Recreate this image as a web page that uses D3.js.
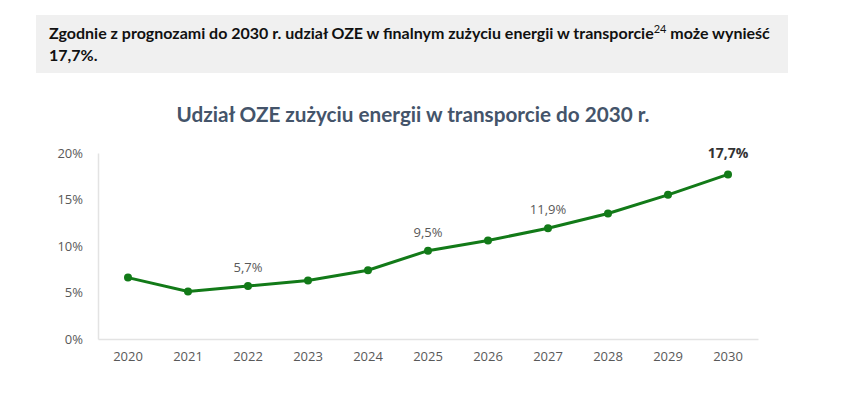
<!DOCTYPE html>
<html>
<head>
<meta charset="utf-8">
<script src="https://cdn.jsdelivr.net/npm/d3@7"></script>
<style>
  body { margin: 0; background: #fff; }
  svg { font-family: Lato, "Open Sans", sans-serif; }
</style>
</head>
<body>
<div id="chart"></div>
<script>
const years = ['2020', '2021', '2022', '2023', '2024', '2025', '2026', '2027', '2028', '2029', '2030'];
const shares = [6.6, 5.1, 5.7, 6.3, 7.4, 9.5, 10.6, 11.9, 13.5, 15.5, 17.7];
const labelledYears = ['2022', '2025', '2027', '2030'];
const yTicks = [0, 5, 10, 15, 20];

const width = 850;
const height = 399;
const green = '#127a18';

const svg = d3.select('#chart')
  .append('svg')
  .attr('width', width)
  .attr('height', height);

// header box
svg.append('rect')
  .attr('x', 36).attr('y', 15)
  .attr('width', 752).attr('height', 58)
  .attr('fill', '#f0f0f0');

const head = svg.append('text')
  .attr('x', 49).attr('y', 39)
  .attr('fill', '#111')
  .style('font-size', '16px')
  .style('font-weight', 700);
head.append('tspan').text('Zgodnie z prognozami do 2030 r. udział OZE w finalnym zużyciu energii w transporcie');
head.append('tspan').text('24').attr('dy', -6).style('font-size', '11px').style('font-weight', 400);
head.append('tspan').text(' może wynieść').attr('dy', 6);
svg.append('text')
  .attr('x', 49).attr('y', 61)
  .attr('fill', '#111')
  .style('font-size', '16px')
  .style('font-weight', 700)
  .text('17,7%.');

// chart title
svg.append('text')
  .attr('x', 413).attr('y', 122)
  .attr('text-anchor', 'middle')
  .attr('fill', '#44546a')
  .style('font-size', '20.7px')
  .style('font-weight', 700)
  .text('Udział OZE zużyciu energii w transporcie do 2030 r.');

const x = d3.scaleBand().domain(years).range([98, 758]);
const y = d3.scaleLinear().domain([0, 20]).range([339, 153]);
const cx = d => x(d) + x.bandwidth() / 2;

// axes
const yAxis = svg.append('g')
  .attr('transform', 'translate(98,0)')
  .call(d3.axisLeft(y).tickValues(yTicks).tickSize(0).tickPadding(15).tickFormat(d => d + '%'));
yAxis.select('.domain').attr('stroke', '#e3e3e3').attr('stroke-width', 1.5);
yAxis.selectAll('text').attr('fill', '#595959').style('font-size', '13px').style('font-family', '"Open Sans", sans-serif');

const xAxis = svg.append('g')
  .attr('transform', 'translate(0,339)')
  .call(d3.axisBottom(x).tickSize(0).tickPadding(13));
xAxis.select('.domain').attr('stroke', '#e3e3e3').attr('stroke-width', 1.5);
xAxis.selectAll('text').attr('fill', '#595959').style('font-size', '13px').style('font-family', '"Open Sans", sans-serif');

// line
const points = years.map((d, i) => ({ year: d, value: shares[i] }));
svg.append('path')
  .datum(points)
  .attr('fill', 'none')
  .attr('stroke', green)
  .attr('stroke-width', 3)
  .attr('d', d3.line().x(d => cx(d.year)).y(d => y(d.value)));

svg.selectAll('circle.pt')
  .data(points)
  .enter()
  .append('circle')
  .attr('class', 'pt')
  .attr('cx', d => cx(d.year))
  .attr('cy', d => y(d.value))
  .attr('r', 4)
  .attr('fill', green);

// data labels
svg.selectAll('text.lbl')
  .data(points.filter(d => labelledYears.includes(d.year)))
  .enter()
  .append('text')
  .attr('class', 'lbl')
  .attr('x', d => cx(d.year))
  .attr('y', d => y(d.value) - (d.year === '2030' ? 16 : 14))
  .attr('text-anchor', 'middle')
  .attr('fill', d => d.year === '2030' ? '#333' : '#595959')
  .style('font-family', '"Open Sans", sans-serif')
  .style('font-size', d => d.year === '2030' ? '14px' : '13px')
  .style('font-weight', d => d.year === '2030' ? 700 : 400)
  .text(d => String(d.value).replace('.', ',') + '%');
</script>
</body>
</html>
